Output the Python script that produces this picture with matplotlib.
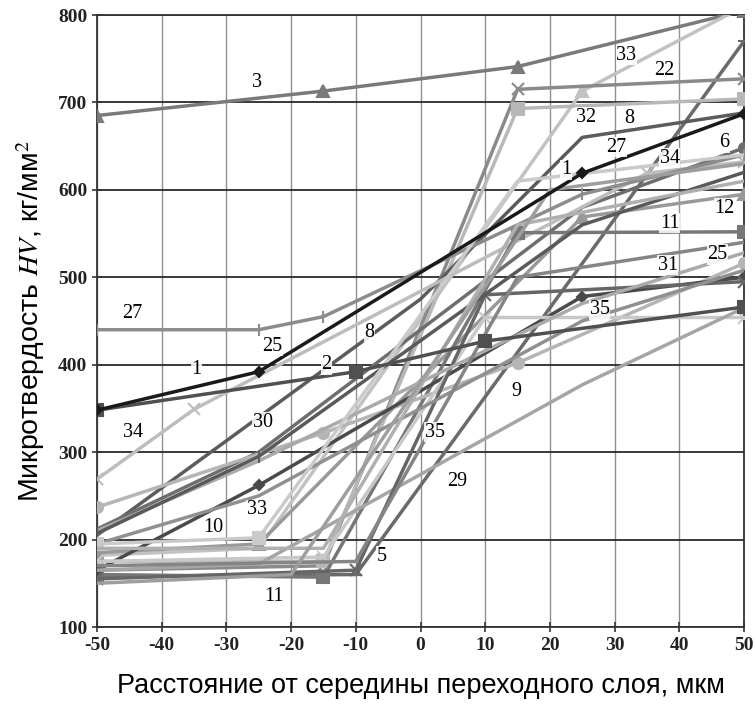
import numpy as np
import matplotlib.pyplot as plt

plt.rcParams['mathtext.fontset'] = 'stix'
plt.rcParams['axes.unicode_minus'] = False

# Data (x in mkm, HV in kg/mm2)
x_3 = [-50, -15, 15, 50]
hv_3 = [685, 713, 741, 805]
x_1 = [-50, -25, 25, 50]
hv_1 = [348, 392, 619, 687]
x_2 = [-50, -10, 10, 50]
hv_2 = [348, 392, 427, 466]
x_22 = [-50, -15, 15, 50]
hv_22 = [165, 170, 715, 727]
x_32 = [-50, -15, 15, 50]
hv_32 = [175, 175, 693, 704]
x_33a = [-50, -25, 25, 50]
hv_33a = [182, 190, 713, 810]
x_8 = [-50, 0, 25, 50]
hv_8 = [205, 475, 660, 688]
x_6 = [-50, -25, 25, 50]
hv_6 = [212, 300, 580, 648]
x_34 = [-50, -35, 35, 50]
hv_34 = [269, 349, 619, 632]
x_12 = [-50, -25, 25, 50]
hv_12 = [185, 195, 569, 595]
x_11 = [-50, -15, 15, 50]
hv_11 = [160, 157, 551, 552]
x_9 = [-50, -15, 15, 50]
hv_9 = [237, 322, 402, 516]
x_33b = [-50, -25, 25, 50]
hv_33b = [165, 262, 478, 500]
x_35 = [-50, -15, 10, 50]
hv_35 = [175, 180, 454, 454]
x_29 = [-50, -25, 25, 50]
hv_29 = [165, 172, 377, 465]
x_27 = [-50, -25, -15, 25, 50]
hv_27 = [440, 440, 455, 595, 640]
x_5 = [-50, -10, 10, 50]
hv_5 = [155, 165, 480, 495]
x_31 = [-50, -25, 25, 50]
hv_31 = [195, 250, 450, 508]
x_25 = [-50, -25, 25, 50]
hv_25 = [210, 290, 470, 528]
x_30 = [-50, -25, 25, 50]
hv_30 = [207, 295, 560, 620]
x_10 = [-50, -25, 15, 50]
hv_10 = [195, 202, 610, 640]
x_36 = [-50, -10, 50]
hv_36 = [158, 160, 770]
x_37 = [-50, -15, 15, 50]
hv_37 = [190, 190, 560, 610]
x_38 = [-50, -10, 15, 50]
hv_38 = [170, 175, 500, 540]
x_39 = [-50, -20, 20, 50]
hv_39 = [150, 160, 600, 630]

curves = [
    (x_3, hv_3, '#7a7a7a', '^', None), (x_36, hv_36, '#6a6a6a', '_', None),
    (x_33a, hv_33a, '#c2c2c2', '^', [0, 2]), (x_22, hv_22, '#8a8a8a', 'x', None),
    (x_32, hv_32, '#b8b8b8', 's', None), (x_8, hv_8, '#5c5c5c', None, None),
    (x_6, hv_6, '#6e6e6e', 'o', [3]), (x_34, hv_34, '#bdbdbd', 'x', None),
    (x_12, hv_12, '#999999', '^', None), (x_11, hv_11, '#777777', 's', None),
    (x_9, hv_9, '#b5b5b5', 'o', None), (x_33b, hv_33b, '#4a4a4a', 'D', None),
    (x_35, hv_35, '#c8c8c8', 'x', None), (x_29, hv_29, '#a5a5a5', None, None),
    (x_27, hv_27, '#8c8c8c', '|', None), (x_5, hv_5, '#666666', 'x', None),
    (x_31, hv_31, '#909090', None, None), (x_25, hv_25, '#aaaaaa', None, None),
    (x_30, hv_30, '#5a5a5a', '|', [0, 1]), (x_10, hv_10, '#cacaca', 's', [0, 1]),
    (x_37, hv_37, '#b0b0b0', None, None), (x_38, hv_38, '#858585', None, None),
    (x_39, hv_39, '#9e9e9e', None, None),
    (x_2, hv_2, '#505050', 's', None), (x_1, hv_1, '#1a1a1a', 'D', None),
]

labels = ['3', '33', '22', '32', '8', '27', '1', '34', '6', '12', '11', '25',
          '31', '35', '27', '25', '1', '2', '8', '34', '30', '33', '10', '5',
          '11', '9', '35', '29']
label_x = [-25.3, 31.8, 37.7, 25.6, 32.3, 30.3, 22.5, 38.5, 47, 47, 38.5, 45.9,
           38.2, 27.7, -44.5, -22.9, -34.6, -14.5, -7.9, -44.5, -24.4, -25.3,
           -32.1, -6, -22.6, 14.8, 2.2, 5.6]
label_y = [723, 754, 737, 683, 682, 649, 623, 636, 654, 579, 562, 526, 514,
           463, 459, 421, 394, 400, 437, 323, 334, 234, 214, 181, 135, 369,
           323, 266]

fig = plt.figure(figsize=(7.55, 7.07), dpi=100)
ax = fig.add_axes([97 / 755, 1 - 627 / 707, 647 / 755, 612 / 707])

for xs, ys, c, m, every in curves:
    ms = 9 if m == 's' else (5 if m == 'D' else 8)
    ax.plot(xs, ys, color=c, lw=2.5, marker=m, ms=ms, mew=1.5,
            markevery=every, zorder=3)

for t, lx, ly in zip(labels, label_x, label_y):
    ax.text(lx, ly, t, family='Liberation Serif', fontsize=14.5, ha='center',
            va='center', zorder=5,
            bbox=dict(facecolor='white', edgecolor='none', pad=0.4, alpha=0.85))

ax.set_xlim(-50, 50)
ax.set_ylim(100, 800)
ax.set_xticks(np.arange(-50, 51, 10))
ax.set_yticks(np.arange(100, 801, 100))
ax.grid(axis='x', color='#8f8f8f', lw=1.0, zorder=1)
ax.grid(axis='y', color='#2a2a2a', lw=1.3, zorder=1)
for s in ax.spines.values():
    s.set_color('#333333')
    s.set_linewidth(1.3)
ax.tick_params(direction='inout', length=7, width=1.2, colors='#333333',
               labelcolor='#222222')
for lab in ax.get_xticklabels() + ax.get_yticklabels():
    lab.set_family('Liberation Serif')
    lab.set_fontweight('bold')
    lab.set_fontsize(14)

ax.set_xlabel('Расстояние от середины переходного слоя, мкм',
              family='Liberation Sans', fontsize=19.5, labelpad=14)
ax.set_ylabel(r'Микротвердость $HV$, кг/мм$^2$', family='Liberation Sans',
              fontsize=20.5, labelpad=8)

fig.savefig('out.png', dpi=100)
